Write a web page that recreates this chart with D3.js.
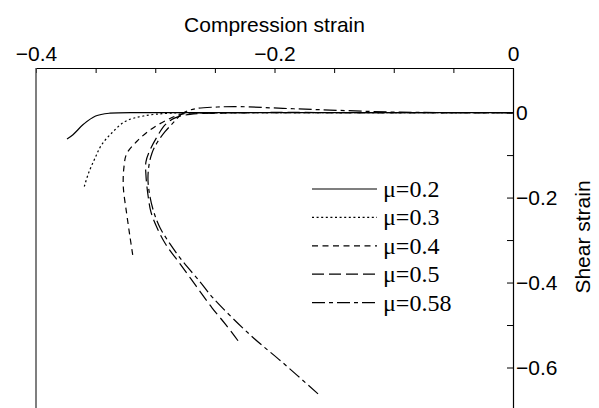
<!DOCTYPE html>
<html>
<head>
<meta charset="utf-8">
<script src="https://cdn.jsdelivr.net/npm/d3@7"></script>
<style>
  body { margin: 0; background: #fff; }
  svg { display: block; }
</style>
</head>
<body>
<div id="chart"></div>
<script>
// series: [compression strain, shear strain]
const labels = ['μ=0.2', 'μ=0.3', 'μ=0.4', 'μ=0.5', 'μ=0.58'];

const mu02 = [[-0.374, -0.062], [-0.369, -0.052], [-0.360, -0.027], [-0.350, -0.008],
  [-0.338, -0.0014], [-0.304, 0], [-0.2, 0], [-0.1, 0], [0, 0]];

const mu03 = [[-0.3595, -0.174], [-0.356, -0.143], [-0.3505, -0.107], [-0.345, -0.076],
  [-0.3365, -0.048], [-0.3254, -0.021], [-0.310, -0.008], [-0.2876, -0.0014],
  [-0.25, -0.0005], [-0.1, 0], [0, 0]];

const mu04 = [[-0.3189, -0.335], [-0.3212, -0.292], [-0.324, -0.237], [-0.3268, -0.174],
  [-0.3262, -0.127], [-0.324, -0.097], [-0.3156, -0.068], [-0.3044, -0.041],
  [-0.290, -0.017], [-0.2765, -0.003], [-0.25, -0.001], [-0.1, 0], [0, 0]];

const mu05 = [[-0.2306, -0.537], [-0.2407, -0.4995], [-0.2524, -0.4595], [-0.2658, -0.408],
  [-0.2792, -0.356], [-0.291, -0.311], [-0.2985, -0.271], [-0.3036, -0.234],
  [-0.3061, -0.194], [-0.3078, -0.147], [-0.3078, -0.116], [-0.3044, -0.088],
  [-0.2985, -0.057], [-0.2918, -0.029], [-0.2834, -0.0125], [-0.2709, -0.004],
  [-0.2457, -0.0007], [-0.1, 0], [0, 0]];

const mu058 = [[-0.1635, -0.662], [-0.1929, -0.589], [-0.2205, -0.523], [-0.2516, -0.436],
  [-0.2625, -0.398], [-0.2767, -0.351], [-0.2876, -0.309], [-0.296, -0.271],
  [-0.301, -0.236], [-0.3044, -0.198], [-0.3061, -0.158], [-0.3052, -0.123],
  [-0.3027, -0.095], [-0.2985, -0.071], [-0.2918, -0.045], [-0.2843, -0.022],
  [-0.2767, -0.001], [-0.2667, 0.009], [-0.2499, 0.013], [-0.2289, 0.014],
  [-0.1929, 0.010], [-0.1535, 0.006], [-0.0948, 0.001], [0, 0]];

const series = [mu02, mu03, mu04, mu05, mu058];
const dashStyles = ['none', '2,2.6', '6,4.5', '12,5', '13,4,4,4'];

const xTicks = [-0.4, -0.35, -0.3, -0.25, -0.2, -0.15, -0.1, -0.05, 0];
const xLabelled = [-0.4, -0.2, 0];
const yTicks = [0, -0.1, -0.2, -0.3, -0.4, -0.5, -0.6];
const yLabelled = [0, -0.2, -0.4, -0.6];

const width = 599;
const height = 408;
const plotLeft = 36, plotRight = 513, plotTop = 68, plotBottom = 410;

const svg = d3.select('#chart')
  .append('svg')
  .attr('width', width)
  .attr('height', height);

const x = d3.scaleLinear().domain([-0.4, 0]).range([plotLeft, plotRight]);
const y = d3.scaleLinear().domain([0.105, -0.7]).range([plotTop, plotBottom]);

const fmt = d3.format('');
const sans = 'Liberation Sans, Arial, sans-serif';

// top axis (compression strain)
const xAxis = svg.append('g')
  .attr('transform', `translate(0,${plotTop})`)
  .call(d3.axisTop(x)
    .tickValues(xTicks)
    .tickSizeInner(-5)
    .tickSizeOuter(0)
    .tickPadding(7)
    .tickFormat(d => xLabelled.some(v => Math.abs(v - d) < 1e-9) ? fmt(d) : ''));

// right axis (shear strain)
const yAxis = svg.append('g')
  .attr('transform', `translate(${plotRight},0)`)
  .call(d3.axisRight(y)
    .tickValues(yTicks)
    .tickSizeInner(-6)
    .tickSizeOuter(0)
    .tickPadding(3)
    .tickFormat(d => yLabelled.some(v => Math.abs(v - d) < 1e-9) ? fmt(d) : ''));

[xAxis, yAxis].forEach(a => {
  a.selectAll('path.domain').attr('stroke', '#000').attr('stroke-width', 1.2);
  a.selectAll('.tick line').attr('stroke', '#000').attr('stroke-width', 1);
  a.selectAll('.tick text')
    .attr('fill', '#000')
    .style('font-family', sans)
    .style('font-size', '21px');
});

// left frame line
svg.append('line')
  .attr('x1', plotLeft).attr('x2', plotLeft)
  .attr('y1', plotTop).attr('y2', plotBottom)
  .attr('stroke', '#555')
  .attr('stroke-width', 1.5);

svg.append('text')
  .attr('x', (plotLeft + plotRight) / 2)
  .attr('y', 32)
  .attr('text-anchor', 'middle')
  .style('font-family', sans)
  .style('font-size', '21px')
  .text('Compression strain');

svg.append('text')
  .attr('transform', `translate(590,237) rotate(-90)`)
  .attr('text-anchor', 'middle')
  .style('font-family', sans)
  .style('font-size', '21px')
  .text('Shear strain');

const line = d3.line()
  .x(d => x(d[0]))
  .y(d => y(d[1]))
  .curve(d3.curveCatmullRom);

svg.selectAll('.curve')
  .data(series)
  .enter().append('path')
  .attr('class', 'curve')
  .attr('fill', 'none')
  .attr('stroke', '#000')
  .attr('stroke-width', 1.2)
  .attr('stroke-dasharray', (d, i) => dashStyles[i])
  .attr('d', line);

// legend
const legend = svg.append('g')
  .attr('transform', 'translate(312,189)');

const rows = legend.selectAll('g')
  .data(labels)
  .enter().append('g')
  .attr('transform', (d, i) => `translate(0,${i * 28.4})`);

rows.append('line')
  .attr('x1', 0).attr('x2', 65)
  .attr('stroke', '#000')
  .attr('stroke-width', 1.2)
  .attr('stroke-dasharray', (d, i) => dashStyles[i]);

rows.append('text')
  .attr('x', 71)
  .attr('dy', '0.33em')
  .style('font-family', 'Liberation Serif, Times New Roman, serif')
  .style('font-size', '24px')
  .text(d => d);
</script>
</body>
</html>
